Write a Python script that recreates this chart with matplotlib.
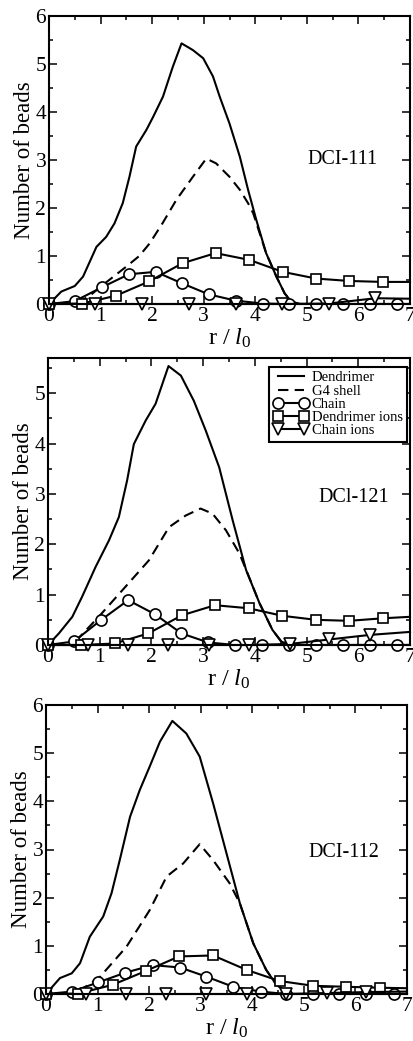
import matplotlib
matplotlib.use('Agg')
import matplotlib.pyplot as plt
from matplotlib.ticker import MultipleLocator

plt.rcParams['font.family'] = ['Liberation Serif', 'DejaVu Serif']
plt.rcParams['mathtext.fontset'] = 'custom'
plt.rcParams['mathtext.rm'] = 'Liberation Serif'
plt.rcParams['mathtext.it'] = 'Liberation Serif:italic'

# ---- DCI-111 ----
dend_r_111 = [0, 0.24, 0.5, 0.66, 0.92, 1.11, 1.27, 1.43, 1.56, 1.69, 1.89, 2.02, 2.21, 2.40,
              2.57, 2.79, 2.99, 3.18, 3.31, 3.50, 3.70, 3.86, 4.02, 4.21, 4.41, 4.57, 4.70, 4.86, 7.0]
dend_n_111 = [0, 0.26, 0.375, 0.57, 1.19, 1.40, 1.68, 2.10, 2.65, 3.28, 3.63, 3.90, 4.32, 4.94,
              5.43, 5.29, 5.12, 4.74, 4.32, 3.76, 3.07, 2.38, 1.75, 1.06, 0.57, 0.22, 0.05, 0, 0]
g4_r_111 = [0.55, 0.8, 1.0, 1.25, 1.5, 1.75, 1.95, 2.2, 2.47, 2.79, 3.05, 3.24, 3.50, 3.70, 3.86,
            3.96, 4.21, 4.41, 4.57, 4.70, 4.86, 7.0]
g4_n_111 = [0.02, 0.18, 0.36, 0.57, 0.78, 1.0, 1.26, 1.68, 2.17, 2.65, 3.03, 2.93, 2.65, 2.38, 2.10,
            1.89, 1.06, 0.57, 0.22, 0.05, 0, 0]
chain_r_111 = [0, 0.5, 1.03, 1.55, 2.07, 2.58, 3.1, 3.62, 4.14, 4.66, 5.18, 5.7, 6.22, 6.74, 7.0]
chain_n_111 = [0, 0.06, 0.35, 0.62, 0.67, 0.43, 0.2, 0.07, 0.01, 0, 0, 0, 0, 0, 0]
dion_r_111 = [0, 0.64, 1.29, 1.94, 2.59, 3.23, 3.88, 4.53, 5.18, 5.82, 6.47, 7.0]
dion_n_111 = [0, 0.01, 0.17, 0.47, 0.85, 1.06, 0.92, 0.67, 0.53, 0.48, 0.46, 0.46]
cion_r_111 = [0, 0.9, 1.81, 2.71, 3.62, 4.52, 5.43, 6.33, 7.0]
cion_n_111 = [0, 0, 0, 0, 0, 0, 0.01, 0.12, 0.11]

# ---- DCl-121 ----
dend_r_121 = [0, 0.21, 0.47, 0.66, 0.92, 1.18, 1.37, 1.53, 1.66, 1.89, 2.08, 2.33, 2.57, 2.82,
              3.05, 3.31, 3.57, 3.83, 4.09, 4.34, 4.51, 4.67, 7.0]
dend_n_121 = [0, 0.23, 0.56, 0.96, 1.55, 2.08, 2.54, 3.27, 3.99, 4.46, 4.79, 5.54, 5.35, 4.85,
              4.26, 3.53, 2.48, 1.49, 0.83, 0.30, 0.07, 0, 0]
g4_r_121 = [0.53, 0.98, 1.5, 1.95, 2.34, 2.66, 2.95, 3.18, 3.44, 3.70, 3.86, 4.09, 4.34, 4.51, 4.67, 7.0]
g4_n_121 = [0.07, 0.56, 1.16, 1.68, 2.34, 2.57, 2.71, 2.61, 2.28, 1.82, 1.42, 0.83, 0.30, 0.07, 0, 0]
chain_r_121 = [0, 0.5, 1.03, 1.55, 2.07, 2.58, 3.1, 3.62, 4.14, 4.66, 5.18, 5.7, 6.22, 6.74, 7.0]
chain_n_121 = [0, 0.07, 0.5, 0.89, 0.61, 0.23, 0.05, 0, 0, 0, 0, 0, 0, 0, 0]
dion_r_121 = [0, 0.64, 1.29, 1.94, 2.59, 3.23, 3.88, 4.53, 5.18, 5.82, 6.47, 7.0]
dion_n_121 = [0, 0, 0.03, 0.23, 0.59, 0.79, 0.73, 0.58, 0.5, 0.48, 0.53, 0.56]
cion_r_121 = [0, 0.78, 1.55, 2.33, 3.11, 3.89, 4.67, 5.44, 6.22, 7.0]
cion_n_121 = [0, 0, 0, 0, 0, 0, 0.02, 0.11, 0.2, 0.26]

# ---- DCI-112 ----
dend_r_112 = [0, 0.27, 0.5, 0.66, 0.85, 1.11, 1.27, 1.43, 1.63, 1.82, 2.01, 2.21, 2.45, 2.72,
              2.98, 3.24, 3.50, 3.76, 4.02, 4.27, 4.47, 4.66, 4.79, 7.0]
dend_n_112 = [0, 0.33, 0.43, 0.64, 1.19, 1.61, 2.09, 2.78, 3.68, 4.24, 4.72, 5.24, 5.67, 5.41,
              4.93, 3.96, 2.92, 1.88, 1.05, 0.5, 0.19, 0.05, 0, 0]
g4_r_112 = [0.63, 1.05, 1.56, 2.01, 2.34, 2.66, 2.98, 3.24, 3.56, 3.76, 4.02, 4.27, 4.47, 4.66, 4.79, 7.0]
g4_n_112 = [0.05, 0.36, 0.98, 1.74, 2.44, 2.71, 3.11, 2.78, 2.30, 1.88, 1.05, 0.5, 0.19, 0.05, 0, 0]
chain_r_112 = [0, 0.5, 1.01, 1.53, 2.07, 2.6, 3.11, 3.63, 4.16, 4.66, 5.18, 5.69, 6.21, 6.74, 7.0]
chain_n_112 = [0, 0.05, 0.24, 0.44, 0.6, 0.55, 0.36, 0.15, 0.05, 0, 0, 0, 0, 0, 0]
dion_r_112 = [0, 0.63, 1.29, 1.94, 2.58, 3.24, 3.89, 4.53, 5.18, 5.82, 6.47, 7.0]
dion_n_112 = [0, 0.01, 0.19, 0.48, 0.78, 0.8, 0.5, 0.27, 0.17, 0.15, 0.13, 0.12]
cion_r_112 = [0, 0.77, 1.55, 2.32, 3.11, 3.89, 4.66, 5.44, 6.21, 7.0]
cion_n_112 = [0, 0, 0, 0, 0, 0, 0, 0.02, 0.04, 0.05]

panel_names = ['DCI-111', 'DCl-121', 'DCI-112']
panel_ymax = [6, 5.7, 6]
name_pos = [(5.02, 3.0), (5.22, 2.92), (5.08, 2.93)]

panels = [
    (dend_r_111, dend_n_111, g4_r_111, g4_n_111, chain_r_111, chain_n_111,
     dion_r_111, dion_n_111, cion_r_111, cion_n_111),
    (dend_r_121, dend_n_121, g4_r_121, g4_n_121, chain_r_121, chain_n_121,
     dion_r_121, dion_n_121, cion_r_121, cion_n_121),
    (dend_r_112, dend_n_112, g4_r_112, g4_n_112, chain_r_112, chain_n_112,
     dion_r_112, dion_n_112, cion_r_112, cion_n_112),
]

# axes boxes in pixels: left, top, right, bottom
W, H = 413, 1041
boxes = [(49, 16, 410, 304), (48, 358, 410, 645), (46, 705, 407, 994)]

fig = plt.figure(figsize=(W / 100, H / 100), dpi=100)

lw = 1.5
for k, (box, data) in enumerate(zip(boxes, panels)):
    l, t, r, b = box
    ax = fig.add_axes([l / W, 1 - b / H, (r - l) / W, (b - t) / H])
    dr, dn, gr, gn, cr, cn, ir, inn, tr, tn = data

    ax.plot(dr, dn, color='black', lw=lw, label='Dendrimer')
    ax.plot(gr, gn, color='black', lw=lw, ls=(0, (5, 3)), label='G4 shell')
    ax.plot(cr, cn, color='black', lw=lw, marker='o', ms=8, mfc='white', mec='black',
            mew=1.2, markevery=slice(0, len(cr) - 1), clip_on=False, label='Chain')
    ax.plot(ir, inn, color='black', lw=lw, marker='s', ms=7.5, mfc='white', mec='black',
            mew=1.2, markevery=slice(0, len(ir) - 1), clip_on=False, label='Dendrimer ions')
    ax.plot(tr, tn, color='black', lw=lw, marker='v', ms=8.5, mfc='white', mec='black',
            mew=1.2, markevery=slice(0, len(tr) - 1), clip_on=False, label='Chain ions')

    ax.set_xlim(0, 7)
    ax.set_ylim(0, panel_ymax[k])
    ax.xaxis.set_major_locator(MultipleLocator(1))
    ax.xaxis.set_minor_locator(MultipleLocator(0.5))
    ax.yaxis.set_major_locator(MultipleLocator(1))
    ax.yaxis.set_minor_locator(MultipleLocator(0.5))
    ax.tick_params(which='both', direction='in', top=True, right=True, width=1.1)
    ax.tick_params(which='major', length=5.5, labelsize=15.5, pad=2)
    ax.tick_params(which='minor', length=3)
    for s in ax.spines.values():
        s.set_linewidth(1.5)

    ax.set_ylabel('Number of beads', fontsize=16.5, labelpad=0)
    ax.set_xlabel(r'r / $\mathit{l}_\mathrm{0}$', fontsize=17.5, labelpad=1)
    ax.text(name_pos[k][0], name_pos[k][1], panel_names[k], fontsize=14.5, va='center', ha='left')

    if k == 1:
        leg = ax.legend(loc='upper right', bbox_to_anchor=(0.992, 0.969), fontsize=10.5,
                        numpoints=2, handlelength=2.4, handletextpad=0.2, labelspacing=0.0,
                        borderpad=0.3, borderaxespad=0, fancybox=False, framealpha=1,
                        edgecolor='black')
        leg.get_frame().set_linewidth(1.5)
        for h in leg.get_lines():
            h.set_markevery(None)

fig.savefig('out.png', dpi=100)
